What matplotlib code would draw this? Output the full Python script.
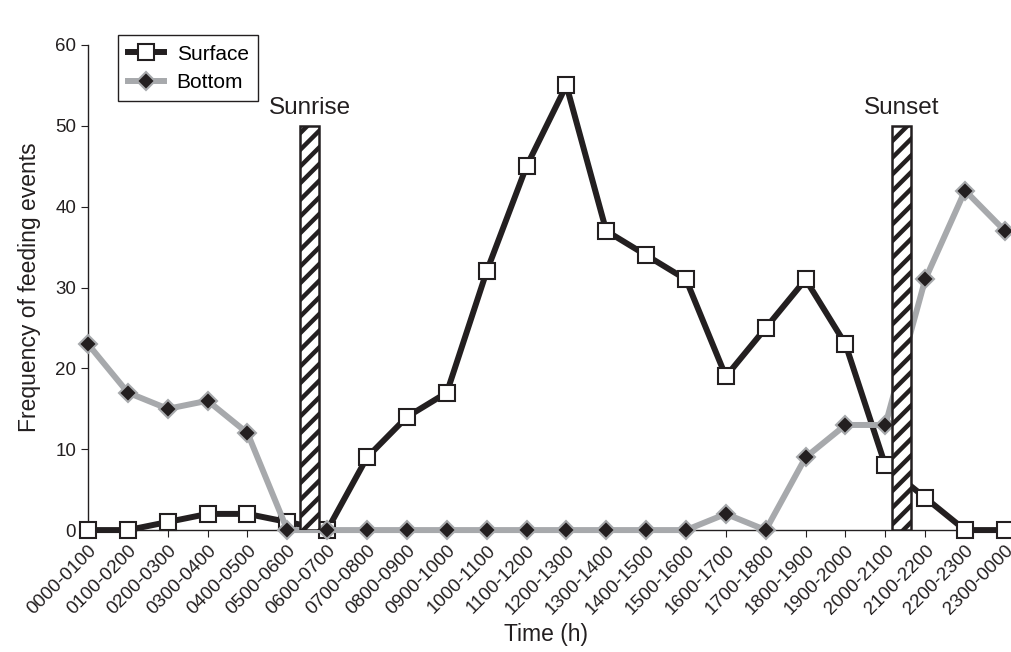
import matplotlib
matplotlib.use("Agg")
from matplotlib import pyplot as plt

plt.rcParams['font.family'] = ['Liberation Sans', 'DejaVu Sans']
plt.rcParams['hatch.linewidth'] = 3.2

## data
time_bins = ["0000-0100", "0100-0200", "0200-0300", "0300-0400", "0400-0500",
             "0500-0600", "0600-0700", "0700-0800", "0800-0900", "0900-1000",
             "1000-1100", "1100-1200", "1200-1300", "1300-1400", "1400-1500",
             "1500-1600", "1600-1700", "1700-1800", "1800-1900", "1900-2000",
             "2000-2100", "2100-2200", "2200-2300", "2300-0000"]
surface = [0, 0, 1, 2, 2, 1, 0, 9, 14, 17, 32, 45, 55, 37, 34, 31, 19, 25, 31, 23, 8, 4, 0, 0]
bottom = [23, 17, 15, 16, 12, 0, 0, 0, 0, 0, 0, 0, 0, 0, 0, 0, 2, 0, 9, 13, 13, 31, 42, 37]

## sunrise / sunset markers (position between bins, height)
sun_labels = ["Sunrise", "Sunset"]
sun_pos = [5.56, 20.40]
sun_height = [50, 50]

ink = "#231f20"
grey = "#a7a9ac"

fig = plt.figure(figsize=(10.12, 6.52), dpi=100)
ax = fig.add_axes([0.087, 0.187, 0.906, 0.744])

x = list(range(len(time_bins)))
ax.plot(x, surface, color=ink, linewidth=4.3, marker="s", markersize=11,
        markerfacecolor="white", markeredgecolor=ink, markeredgewidth=1.5,
        label="Surface", zorder=3)
ax.plot(x, bottom, color=grey, linewidth=4.3, marker="D", markersize=9,
        markerfacecolor=ink, markeredgecolor=grey, markeredgewidth=1.5,
        label="Bottom", zorder=4)

for lab, pos, h in zip(sun_labels, sun_pos, sun_height):
    ax.bar(pos, h, width=0.47, bottom=0, color="white", edgecolor=ink,
           linewidth=1.8, hatch="//", zorder=5)
    ax.text(pos, h + 0.9, lab, ha="center", va="bottom", fontsize=17.5, color=ink)

ax.set_xlim(0, 23)
ax.set_ylim(0, 60)
ax.set_yticks(range(0, 61, 10))
ax.set_xticks(x)
ax.set_xticklabels(time_bins, rotation=45, ha="right", va="top",
                   rotation_mode="anchor", fontsize=13.5, color=ink)
ax.tick_params(axis="y", labelsize=13.5, colors=ink, direction="out", length=5)
ax.tick_params(axis="x", direction="out", length=5, colors=ink)
for s in ["top", "right"]:
    ax.spines[s].set_visible(False)
for s in ["left", "bottom"]:
    ax.spines[s].set_color(ink)
    ax.spines[s].set_linewidth(1)
for ln in ax.lines:
    ln.set_clip_on(False)

ax.set_xlabel("Time (h)", fontsize=16.5, color=ink, labelpad=4)
ax.set_ylabel("Frequency of feeding events", fontsize=16.5, color=ink, labelpad=10)

leg = ax.legend(loc="upper left", bbox_to_anchor=(0.033, 1.02), borderaxespad=0,
                fancybox=False, edgecolor=ink, fontsize=15, handlelength=1.75,
                handletextpad=0.6, framealpha=1, borderpad=0.45, labelspacing=0.45)
leg.get_frame().set_linewidth(1)
leg.set_zorder(10)

plt.savefig("out.png", dpi=100)
